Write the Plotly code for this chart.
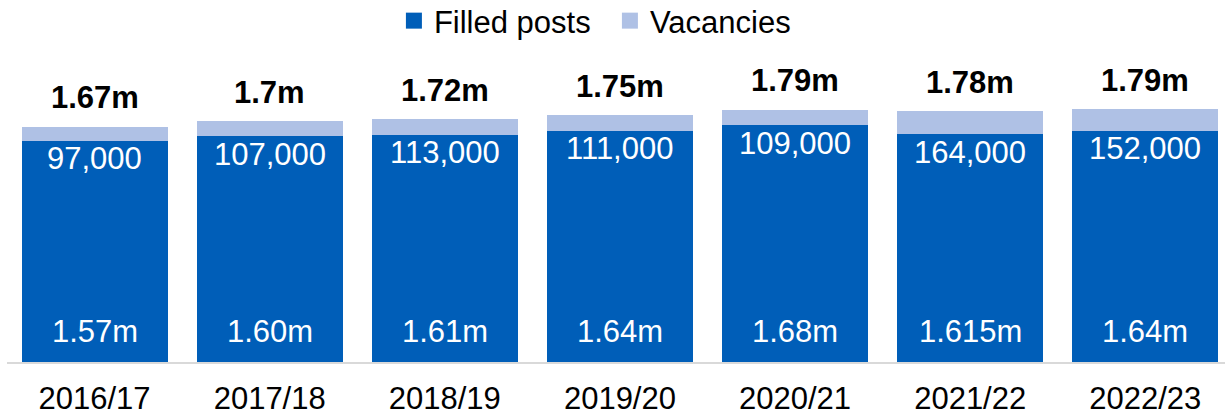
import plotly.graph_objects as go

years = ["2016/17", "2017/18", "2018/19", "2019/20", "2020/21", "2021/22", "2022/23"]
filled_m = [1.57, 1.60, 1.61, 1.64, 1.68, 1.615, 1.64]
vacancies = [97000, 107000, 113000, 111000, 109000, 164000, 152000]
filled_labels = ["1.57m", "1.60m", "1.61m", "1.64m", "1.68m", "1.615m", "1.64m"]
vacancy_labels = ["97,000", "107,000", "113,000", "111,000", "109,000", "164,000", "152,000"]
total_labels = ["1.67m", "1.7m", "1.72m", "1.75m", "1.79m", "1.78m", "1.79m"]

DARK = "#005EB8"
LIGHT = "#AFC1E5"
FONT = "Liberation Sans, Arial, sans-serif"
FS = 31

vac_m = [v / 1e6 for v in vacancies]
totals = [f + v for f, v in zip(filled_m, vac_m)]

fig = go.Figure()
fig.add_trace(go.Bar(x=years, y=filled_m, name="Filled posts", marker=dict(color=DARK, line=dict(width=0)),
                     width=0.833, showlegend=False, hoverinfo="skip"))
fig.add_trace(go.Bar(x=years, y=vac_m, name="Vacancies", marker=dict(color=LIGHT, line=dict(width=0)),
                     width=0.833, showlegend=False, hoverinfo="skip"))
# legend entries
fig.add_trace(go.Scatter(x=[None], y=[None], mode="markers", name="Filled posts",
                         marker=dict(symbol="square", size=17, color=DARK)))
fig.add_trace(go.Scatter(x=[None], y=[None], mode="markers", name="Vacancies",
                         marker=dict(symbol="square", size=17, color=LIGHT)))

for x, f, t, fl, vl, tl in zip(years, filled_m, totals, filled_labels, vacancy_labels, total_labels):
    fig.add_annotation(x=x, y=0, text=fl, showarrow=False, yanchor="middle", yshift=31,
                       font=dict(family=FONT, size=FS, color="white"))
    fig.add_annotation(x=x, y=f, text=vl, showarrow=False, yanchor="middle", yshift=-18,
                       font=dict(family=FONT, size=FS, color="white"))
    fig.add_annotation(x=x, y=t, text="<b>" + tl + "</b>", showarrow=False, yanchor="middle", yshift=29,
                       font=dict(family=FONT, size=FS, color="black"))

fig.update_layout(
    barmode="stack",
    width=1225, height=416,
    margin=dict(l=6.5, r=0, t=80, b=54, pad=0, autoexpand=False),
    paper_bgcolor="white", plot_bgcolor="white",
    font=dict(family=FONT, size=FS, color="black"),
    showlegend=True,
    legend=dict(orientation="h", x=0.495, xanchor="center", y=1.305, yanchor="top",
                font=dict(family=FONT, size=FS, color="black"), itemsizing="trace",
                entrywidth=171, entrywidthmode="pixels",
                traceorder="normal", bgcolor="rgba(0,0,0,0)", tracegroupgap=0),
    xaxis=dict(range=[-0.5, 6.455], showline=True, linecolor="#D9D9D9", linewidth=1.5,
               showgrid=False, zeroline=False, ticks="outside", ticklen=8, tickcolor="rgba(0,0,0,0)",
               tickfont=dict(family=FONT, size=FS, color="black"), fixedrange=True),
    yaxis=dict(range=[0, 2.0], visible=False, showgrid=False, zeroline=False, fixedrange=True),
)

fig.write_html("out.html", config={"displayModeBar": False},
               post_script="document.body.style.margin='0';document.body.style.padding='0';")
